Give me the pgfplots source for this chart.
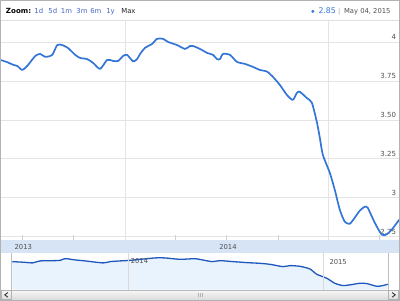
\documentclass[border=0pt]{standalone}
\usepackage{pgfplots}
\pgfplotsset{compat=1.18}
\usepackage{fontspec}
\setmainfont{DejaVu Sans}
\definecolor{mainline}{RGB}{52,118,215}
\definecolor{navline}{RGB}{30,88,190}
\definecolor{navfill}{RGB}{232,243,253}
\definecolor{bandc}{RGB}{214,228,246}
\definecolor{gridc}{RGB}{228,228,228}
\definecolor{linkc}{RGB}{70,100,200}
\definecolor{txtc}{RGB}{80,80,80}
\begin{document}
\begin{tikzpicture}
\fill[white] (0pt,0pt) rectangle (400pt,301pt);
% top band of navigator
\fill[bandc] (0.5pt,48pt) rectangle (399.5pt,60.5pt);
\node[font=\fontsize{6.8}{7}\selectfont, text=txtc, inner sep=0pt] at (23pt,54pt) {2013};
\node[font=\fontsize{6.8}{7}\selectfont, text=txtc, inner sep=0pt] at (228pt,54pt) {2014};
% main axis
\begin{axis}[
 at={(0pt,61pt)}, anchor=south west,
 scale only axis, width=400pt, height=220pt,
 xmin=0, xmax=400, ymin=2.731, ymax=4.141,
 axis line style={draw=none},
 xtick={125,328}, xticklabels={}, xmajorgrids,
 ytick={2.75,3,3.25,3.5,3.75,4}, yticklabels={2.75,3,3.25,3.50,3.75,4},
 ymajorgrids, grid style={gridc, line width=0.6pt},
 major tick length=0pt,
 xtick pos=bottom,
 ytick pos=right, yticklabel pos=right,
 yticklabel style={anchor=south east, xshift=-1.5pt, yshift=0pt, inner sep=2pt, font=\fontsize{7}{7}\selectfont, text=txtc},
 extra x ticks={22,73,175,226,278,380}, extra x tick labels={},
 extra x tick style={grid=none, major tick length=5pt, tick align=inside, tick style={gridc!80!gray, line width=0.6pt}},
 clip=true,
]
\addplot[mainline, line width=1.7pt, line join=round, smooth, tension=0.4] coordinates {
(0,3.885) (7,3.87) (13,3.853) (17,3.846) (22,3.82) (27,3.846) (35,3.91) (40,3.923)
(45,3.904) (52,3.917) (57,3.98) (62,3.98) (68,3.96) (75,3.917) (80,3.897) (87,3.89)
(93,3.865) (100,3.827) (107,3.885) (113,3.878) (118,3.878) (123,3.91) (127,3.917)
(133,3.875) (137,3.89) (140,3.923) (145,3.962) (152,3.987) (157,4.02) (163,4.02)
(168,4.0) (177,3.98) (185,3.955) (190,3.974) (193,3.974) (200,3.955) (207,3.93)
(213,3.917) (217,3.89) (220,3.89) (223,3.923) (230,3.917) (237,3.872) (245,3.859)
(253,3.84) (260,3.82) (267,3.81) (273,3.776) (280,3.724) (287,3.66) (293,3.628)
(297,3.673) (300,3.68) (307,3.64) (312,3.61) (317,3.487) (320,3.385) (323,3.276)
(330,3.16) (335,3.05) (340,2.923) (345,2.846) (350,2.833) (355,2.872) (360,2.917)
(365,2.942) (368,2.935) (375,2.84) (382,2.763) (387,2.765) (392,2.795) (398,2.846) (401,2.87)
};
\end{axis}
% navigator
\begin{axis}[
 at={(0pt,11pt)}, anchor=south west,
 scale only axis, width=400pt, height=37pt,
 xmin=0, xmax=400, ymin=2.611, ymax=4.256,
 axis line style={draw=none},
 xtick={128,323}, xticklabels={}, xmajorgrids, grid style={gray!30, line width=0.5pt},
 ytick=\empty, major tick length=0pt,
 axis on top, clip=true,
]
\addplot[fill=navfill, draw=none] coordinates {
(12,3.856) (25,3.824) (32,3.798) (40,3.887) (55,3.90) (60,3.913) (65,3.989) (75,3.931)
(85,3.887) (103,3.798) (110,3.856) (120,3.887) (130,3.913) (155,4.02) (165,4.02)
(180,3.958) (195,3.989) (200,3.953) (212,3.856) (220,3.90) (233,3.856) (247,3.811)
(260,3.78) (270,3.736) (283,3.633) (290,3.678) (300,3.647) (310,3.531) (317,3.291)
(327,3.113) (335,2.891) (343,2.789) (350,2.82) (360,2.891) (367,2.878) (377,2.758)
(383,2.789) (388,2.847)
} \closedcycle;
\addplot[navline, line width=1.3pt, line join=round, smooth, tension=0.4] coordinates {
(12,3.856) (25,3.824) (32,3.798) (40,3.887) (55,3.90) (60,3.913) (65,3.989) (75,3.931)
(85,3.887) (103,3.798) (110,3.856) (120,3.887) (130,3.913) (155,4.02) (165,4.02)
(180,3.958) (195,3.989) (200,3.953) (212,3.856) (220,3.90) (233,3.856) (247,3.811)
(260,3.78) (270,3.736) (283,3.633) (290,3.678) (300,3.647) (310,3.531) (317,3.291)
(327,3.113) (335,2.891) (343,2.789) (350,2.82) (360,2.891) (367,2.878) (377,2.758)
(383,2.789) (388,2.847)
};
\node[anchor=west, font=\fontsize{6.8}{7}\selectfont, text=txtc, inner sep=0.5pt] at (axis cs:130,3.90) {2014};
\node[anchor=west, font=\fontsize{6.8}{7}\selectfont, text=txtc, inner sep=0.5pt] at (axis cs:329,3.856) {2015};
\end{axis}
% navigator side handles
\fill[white] (0.5pt,11pt) rectangle (11pt,48pt);
\draw[gray!50, line width=0.5pt] (11pt,11pt) -- (11pt,48pt);
\fill[white] (388.5pt,11pt) rectangle (399.5pt,48pt);
\draw[gray!50, line width=0.5pt] (388.5pt,11pt) -- (388.5pt,48pt);
% scrollbar
\shade[top color=gray!6, bottom color=gray!28] (0.5pt,1pt) rectangle (399.5pt,10.5pt);
\draw[gray!55, line width=0.5pt] (0.5pt,10.5pt) -- (399.5pt,10.5pt);
\draw[gray!60, line width=0.5pt] (1pt,1.5pt) rectangle (11pt,10pt);
\draw[gray!60, line width=0.5pt] (389pt,1.5pt) rectangle (399pt,10pt);
\draw[black!80, line width=0.9pt] (7.5pt,8pt) -- (4.5pt,5.7pt) -- (7.5pt,3.4pt);
\draw[black!80, line width=0.9pt] (392.5pt,8pt) -- (395.5pt,5.7pt) -- (392.5pt,3.4pt);
\foreach \xx in {198,200,202} \draw[gray!60, line width=0.4pt] (\xx pt,3.5pt) -- (\xx pt,7.5pt);
% toolbar
\draw[gray!25, line width=0.6pt] (0.5pt,281pt) -- (399.5pt,281pt);
\begin{scope}[every node/.style={inner sep=0pt, font=\fontsize{6.9}{8}\selectfont}]
\node[anchor=base west, font=\fontsize{7.1}{8}\selectfont\bfseries] at (5.5pt,287pt) {Zoom:};
\node[anchor=base west, text=linkc] at (34pt,287pt) {1d};
\node[anchor=base west, text=linkc] at (48pt,287pt) {5d};
\node[anchor=base west, text=linkc] at (60.5pt,287pt) {1m};
\node[anchor=base west, text=linkc] at (76pt,287pt) {3m};
\node[anchor=base west, text=linkc] at (90pt,287pt) {6m};
\node[anchor=base west, text=linkc] at (106pt,287pt) {1y};
\node[anchor=base west, text=black!85] at (121pt,287pt) {Max};
\fill[mainline] (313pt,289.6pt) circle (1.6pt);
\node[anchor=base west, text=mainline, font=\fontsize{7.8}{8}\selectfont] at (318.5pt,287pt) {2.85};
\node[anchor=base west, text=gray!70] at (338pt,287pt) {|};
\node[anchor=base east, text=txtc, font=\fontsize{6.8}{8}\selectfont] at (391pt,287pt) {May 04, 2015};
\end{scope}
% frame
\draw[gray!60, line width=1pt] (0.5pt,0.5pt) rectangle (399.5pt,300.5pt);
\end{tikzpicture}
\end{document}
